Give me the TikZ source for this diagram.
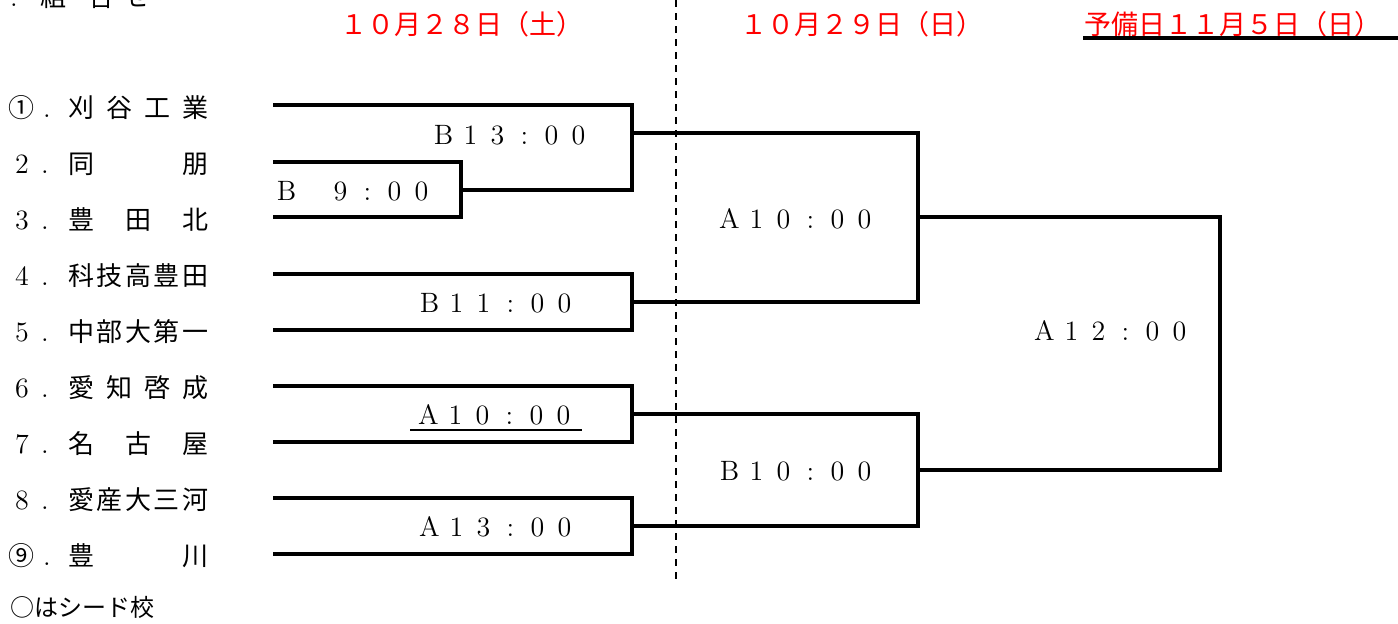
\documentclass[tikz,border=0pt]{standalone}
\usepackage{fontspec}
\newfontfamily\jp{Noto Sans CJK JP}
\newcommand\fw[1]{\makebox[13.5pt]{#1}}
\newcommand\jpf{\jp\fontsize{13pt}{15pt}\selectfont}
\newcommand\jphf{\jp\fontsize{13.5pt}{15pt}\selectfont}
\newcommand\jpsf{\jp\fontsize{12pt}{14pt}\selectfont}
\newcommand\lmf{\fontsize{14pt}{16pt}\selectfont}
\definecolor{hdrred}{RGB}{255,0,0}
\begin{document}
\begin{tikzpicture}[x=0.5pt,y=-0.5pt,
  br/.style={line width=1.6pt, line join=miter},
  outl/.style={line width=1.6pt, line join=miter},
  jtxt/.style={inner sep=0pt, font=\jpf},
  ltxt/.style={inner sep=0pt, font=\lmf},
  hdr/.style={inner sep=0pt, font=\jphf, text=hdrred},
  tname/.style={inner sep=0pt, font=\jpf, anchor=base west}]
\useasboundingbox (0,0) rectangle (1398,623);

% cut-off title at top left
\node[ltxt, anchor=base] (tdot) at (14,6) {.};
\node[jtxt, anchor=base west] (ttl) at (40,6) {組\hspace{11pt}合\hspace{5pt}せ};

% headers
\node[hdr] (h1) at (462,24) {１０月２８日（土）};
\node[hdr] (h2) at (862,24) {１０月２９日（日）};
\node[hdr] (h3) at (1233,24) {予備日１１月５日（日）};
\coordinate (ul1) at (1083,38);
\coordinate (ul2) at (1398,38);
\draw[line width=2pt] (ul1) -- (ul2);

% dashed divider
\coordinate (dtop) at (676,0);
\coordinate (dbot) at (676,583);
\draw[line width=1pt, dash pattern=on 3.5pt off 3pt] (dtop) -- (dbot);

% team prefixes (baselines = centre + 10)
\node[jtxt, anchor=base] (p1) at (22,117) {①};
\node[ltxt, anchor=base] (p2) at (22,173) {2};
\node[ltxt, anchor=base] (p3) at (22,229) {3};
\node[ltxt, anchor=base] (p4) at (22,285) {4};
\node[ltxt, anchor=base] (p5) at (22,341) {5};
\node[ltxt, anchor=base] (p6) at (22,397) {6};
\node[ltxt, anchor=base] (p7) at (22,453) {7};
\node[ltxt, anchor=base] (p8) at (22,509) {8};
\node[jtxt, anchor=base] (p9) at (22,565) {⑨};
\node[ltxt, anchor=base] (d1) at (47,117) {.};
\node[ltxt, anchor=base] (d2) at (45,173) {.};
\node[ltxt, anchor=base] (d3) at (45,229) {.};
\node[ltxt, anchor=base] (d4) at (45,285) {.};
\node[ltxt, anchor=base] (d5) at (45,341) {.};
\node[ltxt, anchor=base] (d6) at (45,397) {.};
\node[ltxt, anchor=base] (d7) at (45,453) {.};
\node[ltxt, anchor=base] (d8) at (45,509) {.};
\node[ltxt, anchor=base] (d9) at (47,565) {.};

% team names
\node[tname] (n1) at (68,117) {\makebox[70pt]{刈\hfill 谷\hfill 工\hfill 業}};
\node[tname] (n2) at (68,173) {\makebox[70pt]{同\hfill 朋}};
\node[tname] (n3) at (68,229) {\makebox[70pt]{豊\hfill 田\hfill 北}};
\node[tname] (n4) at (68,285) {\makebox[70pt]{科\hfill 技\hfill 高\hfill 豊\hfill 田}};
\node[tname] (n5) at (68,341) {\makebox[70pt]{中\hfill 部\hfill 大\hfill 第\hfill 一}};
\node[tname] (n6) at (68,397) {\makebox[70pt]{愛\hfill 知\hfill 啓\hfill 成}};
\node[tname] (n7) at (68,453) {\makebox[70pt]{名\hfill 古\hfill 屋}};
\node[tname] (n8) at (68,509) {\makebox[70pt]{愛\hfill 産\hfill 大\hfill 三\hfill 河}};
\node[tname] (n9) at (68,565) {\makebox[70pt]{豊\hfill 川}};
\node[inner sep=0pt, font=\jpsf, anchor=base west] (seed) at (10,616) {○はシード校};

% bracket coordinates
\coordinate (t1) at (273,105);
\coordinate (t2) at (273,162);
\coordinate (t3) at (273,217);
\coordinate (t4) at (273,274);
\coordinate (t5) at (273,330);
\coordinate (t6) at (273,386);
\coordinate (t7) at (273,442);
\coordinate (t8) at (273,498);
\coordinate (t9) at (273,554);
\coordinate (q1) at (461,217);
\coordinate (q1m) at (461,190);
\coordinate (a1) at (632,190);
\coordinate (a2) at (632,330);
\coordinate (a3) at (632,442);
\coordinate (a4) at (632,554);
\coordinate (o1) at (632,133);
\coordinate (o2) at (632,302);
\coordinate (o3) at (632,414);
\coordinate (o4) at (632,526);
\coordinate (s1) at (918,133);
\coordinate (s2) at (918,302);
\coordinate (s3) at (918,414);
\coordinate (s4) at (918,526);
\coordinate (f1) at (918,217);
\coordinate (f2) at (918,470);
\coordinate (g1) at (1220,217);
\coordinate (g2) at (1220,470);

% first round
\draw[br] (t2) -| (q1) -- (t3);
\draw[br] (t1) -| (a1) -- (q1m);
\draw[br] (t4) -| (a2) -- (t5);
\draw[br] (t6) -| (a3) -- (t7);
\draw[br] (t8) -| (a4) -- (t9);
% second round
\draw[outl] (o1) -- (s1) -- (s2) -- (o2);
\draw[outl] (o3) -- (s3) -- (s4) -- (o4);
% final
\draw[outl] (f1) -- (g1) -- (g2) -- (f2);

% times
\node[ltxt] (m1) at (511,135) {\fw{B}\fw{1}\fw{3}\fw{:}\fw{0}\fw{0}};
\node[ltxt] (m2) at (354,191) {\fw{B}\fw{}\fw{9}\fw{:}\fw{0}\fw{0}};
\node[ltxt] (m3) at (497,303) {\fw{B}\fw{1}\fw{1}\fw{:}\fw{0}\fw{0}};
\node[ltxt] (m4) at (496,415) {\fw{A}\fw{1}\fw{0}\fw{:}\fw{0}\fw{0}};
\node[ltxt] (m5) at (497,527) {\fw{A}\fw{1}\fw{3}\fw{:}\fw{0}\fw{0}};
\node[ltxt] (m6) at (797,219) {\fw{A}\fw{1}\fw{0}\fw{:}\fw{0}\fw{0}};
\node[ltxt] (m7) at (797,471) {\fw{B}\fw{1}\fw{0}\fw{:}\fw{0}\fw{0}};
\node[ltxt] (m8) at (1112,331) {\fw{A}\fw{1}\fw{2}\fw{:}\fw{0}\fw{0}};
\coordinate (u1) at (410,430);
\coordinate (u2) at (582,430);
\draw[line width=0.9pt] (u1) -- (u2);
\end{tikzpicture}
\end{document}
